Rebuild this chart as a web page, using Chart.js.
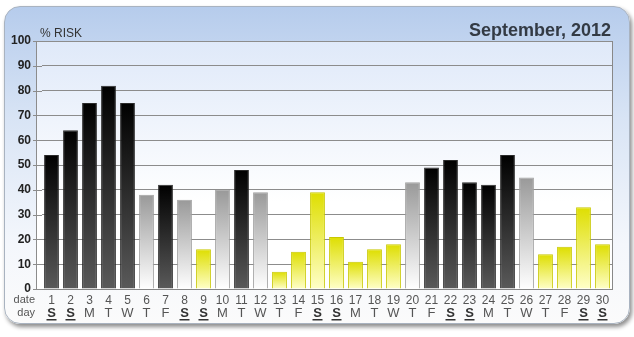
<!DOCTYPE html>
<html>
<head>
<meta charset="utf-8">
<script src="https://cdn.jsdelivr.net/npm/chart.js@4/dist/chart.umd.min.js"></script>
<style>
  html, body { margin: 0; padding: 0; background: #fff; }
  #wrap { position: relative; width: 634px; height: 337px; }
  .panel {
    position: absolute; left: 4px; top: 6px; width: 624px; height: 316px;
    border: 1px solid #a9b3c0; border-radius: 16px;
    background: linear-gradient(to bottom, #b6ccec 0%, #d8e4f5 35%, #f4f7fc 75%, #fbfbfb 100%);
    box-shadow: 2px 3px 4px rgba(0,0,0,0.45);
  }
  canvas { position: absolute; left: 0; top: 0; }
</style>
</head>
<body>
<div id="wrap">
  <div class="panel"></div>
  <canvas id="chart" width="634" height="337"></canvas>
</div>
<script>
// data
const dates = ['1','2','3','4','5','6','7','8','9','10','11','12','13','14','15','16','17','18','19','20','21','22','23','24','25','26','27','28','29','30'];
const dayNames = ['S','S','M','T','W','T','F','S','S','M','T','W','T','F','S','S','M','T','W','T','F','S','S','M','T','W','T','F','S','S'];
const riskValues = [54, 64, 75, 82, 75, 38, 42, 36, 16, 40, 48, 39, 7, 15, 39, 21, 11, 16, 18, 43, 49, 52, 43, 42, 54, 45, 14, 17, 33, 18];
// H = black bar, M = grey bar, L = yellow bar
const riskLevel = ['H','H','H','H','H','M','H','M','L','M','H','M','L','L','L','L','L','L','L','M','H','H','H','H','H','M','L','L','L','L'];
const yTicks = [0, 10, 20, 30, 40, 50, 60, 70, 80, 90, 100];

const FONT = 'Arial, "Liberation Sans", sans-serif';
const AXIS_X = 36.5; // where the y axis line sits, a bit left of the first bar slot

const barColors = {
  H: { top: '#000000', bottom: '#5a5a5a', border: '#2a2a2a' },
  M: { top: '#999999', bottom: '#ffffff', border: '#a0a0a0' },
  L: { top: '#dede00', bottom: '#ffffc8', border: '#c8c800' }
};

function barFill(ctx) {
  const chart = ctx.chart;
  if (!chart.chartArea) return '#000';
  const c = barColors[riskLevel[ctx.dataIndex]];
  const y = chart.scales.y;
  const top = y.getPixelForValue(riskValues[ctx.dataIndex]);
  const bot = y.getPixelForValue(0);
  const g = chart.ctx.createLinearGradient(0, top, 0, bot);
  g.addColorStop(0, c.top);
  g.addColorStop(1, c.bottom);
  return g;
}

// background of plot area, axis lines, title and extra labels
const decor = {
  id: 'decor',
  beforeDraw(chart) {
    const { ctx, chartArea: a } = chart;
    const g = ctx.createLinearGradient(0, a.top, 0, a.bottom);
    g.addColorStop(0, '#dfe9f9');
    g.addColorStop(0.65, '#ffffff');
    g.addColorStop(1, '#ffffff');
    ctx.save();
    ctx.fillStyle = g;
    ctx.fillRect(AXIS_X, a.top, a.right - AXIS_X, a.bottom - a.top);
    ctx.restore();
  },
  beforeDatasetsDraw(chart) {
    const { ctx, chartArea: a } = chart;
    const y = chart.scales.y;
    ctx.save();
    ctx.strokeStyle = '#8c8c8c';
    ctx.lineWidth = 1;
    ctx.beginPath();
    yTicks.forEach(v => {
      const py = Math.round(y.getPixelForValue(v)) + 0.5;
      ctx.moveTo(33, py);
      ctx.lineTo(a.left, py);
    });
    ctx.moveTo(AXIS_X, a.top);
    ctx.lineTo(AXIS_X, a.bottom);
    ctx.stroke();
    ctx.restore();
  },
  afterDraw(chart) {
    const { ctx, chartArea: a } = chart;
    const x = chart.scales.x;
    ctx.save();
    // right edge of plot
    ctx.strokeStyle = '#888';
    ctx.beginPath();
    ctx.moveTo(a.right + 0.5, a.top);
    ctx.lineTo(a.right + 0.5, a.bottom);
    ctx.stroke();
    // title
    ctx.fillStyle = '#333a44';
    ctx.font = 'bold 18px ' + FONT;
    ctx.textAlign = 'right';
    ctx.textBaseline = 'alphabetic';
    ctx.fillText('September, 2012', 611, 36);
    // axis name
    ctx.font = '12px ' + FONT;
    ctx.textAlign = 'left';
    ctx.fillStyle = '#333';
    ctx.fillText('% RISK', 40, 37);
    // row names
    ctx.font = '11px ' + FONT;
    ctx.fillStyle = '#555';
    ctx.textAlign = 'right';
    ctx.textBaseline = 'middle';
    ctx.fillText('date', 35, 300);
    ctx.fillText('day', 35, 313);
    // day letters
    ctx.textAlign = 'center';
    dayNames.forEach((d, i) => {
      const px = x.getPixelForValue(i);
      const weekend = d === 'S';
      ctx.font = (weekend ? 'bold ' : '') + '13px ' + FONT;
      ctx.fillStyle = weekend ? '#333' : '#555';
      ctx.fillText(d, px, 313);
      if (weekend) {
        ctx.fillRect(px - 5, 319, 10, 1.5);
      }
    });
    ctx.restore();
  }
};

new Chart(document.getElementById('chart'), {
  type: 'bar',
  data: {
    labels: dates,
    datasets: [{
      label: '% RISK',
      data: riskValues,
      backgroundColor: barFill,
      borderColor: ctx => barColors[riskLevel[ctx.dataIndex]].border,
      borderWidth: 1,
      borderSkipped: 'bottom',
      barPercentage: 0.78,
      categoryPercentage: 1
    }]
  },
  options: {
    responsive: false,
    animation: false,
    layout: { padding: { left: 0, top: 41, right: 22, bottom: 0 } },
    plugins: { legend: { display: false }, tooltip: { enabled: false } },
    scales: {
      x: {
        afterFit(scale) { scale.height = 48; },
        grid: { display: false, drawTicks: false },
        border: { color: '#888', width: 1 },
        ticks: {
          color: '#555',
          font: { family: FONT, size: 12 },
          padding: 4,
          maxRotation: 0,
          autoSkip: false
        }
      },
      y: {
        min: 0,
        max: 100,
        afterFit(scale) { scale.width = 42; },
        afterBuildTicks(scale) { scale.ticks = yTicks.map(v => ({ value: v })); },
        grid: { color: '#8c8c8c', lineWidth: 1, drawTicks: false },
        border: { display: false },
        ticks: {
          color: '#222',
          font: { family: FONT, size: 12, weight: 'bold' },
          padding: 11
        }
      }
    }
  },
  plugins: [decor]
});
</script>
</body>
</html>
